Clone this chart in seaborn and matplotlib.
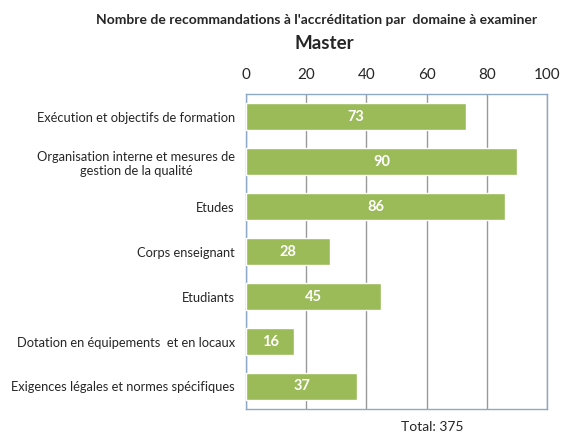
import matplotlib
matplotlib.use("Agg")
import matplotlib.pyplot as plt
import seaborn as sns
import pandas as pd

# data
domaines = [
    "Exécution et objectifs de formation",
    "Organisation interne et mesures de\ngestion de la qualité",
    "Etudes",
    "Corps enseignant",
    "Etudiants",
    "Dotation en équipements  et en locaux",
    "Exigences légales et normes spécifiques",
]
recommandations = [73, 90, 86, 28, 45, 16, 37]
x_ticks = [0, 20, 40, 60, 80, 100]

df = pd.DataFrame({"domaine": domaines, "n": recommandations})

sns.set_style("white")
plt.rcParams["font.family"] = ["Lato", "DejaVu Sans"]

fig = plt.figure(figsize=(5.61, 4.36), dpi=100)
ax = fig.add_axes([0.4385, 0.062, 0.5365, 0.722])

sns.barplot(data=df, y="domaine", x="n", color="#9BBB59", saturation=1,
            width=0.6, orient="h", ax=ax, zorder=3)

ax.set_xlim(0, 100)
ax.set_xticks(x_ticks)
ax.xaxis.tick_top()
ax.tick_params(axis="x", length=0, pad=9, labelsize=11)
ax.tick_params(axis="y", length=0, pad=8, labelsize=9.3)
for lbl in ax.get_yticklabels():
    lbl.set_multialignment("center")
ax.set_xlabel("")
ax.set_ylabel("")
ax.grid(axis="x", color="#999999", linewidth=1, zorder=0)
for s in ax.spines.values():
    s.set_color("#8EA9C8")
    s.set_linewidth(1)

for i, v in enumerate(recommandations):
    ax.text(v / 2, i, str(v), ha="center", va="center", color="white",
            fontsize=10.5, fontweight="bold", zorder=4)

fig.text(0.565, 0.955, "Nombre de recommandations à l'accréditation par  domaine à examiner",
         ha="center", va="center", fontsize=10, fontweight="bold")
fig.text(0.578, 0.9, "Master", ha="center", va="center", fontsize=13.5, fontweight="bold")
fig.text(0.77, 0.02, "Total: 375", ha="center", va="center", fontsize=10)

fig.savefig("out.png", dpi=100)
